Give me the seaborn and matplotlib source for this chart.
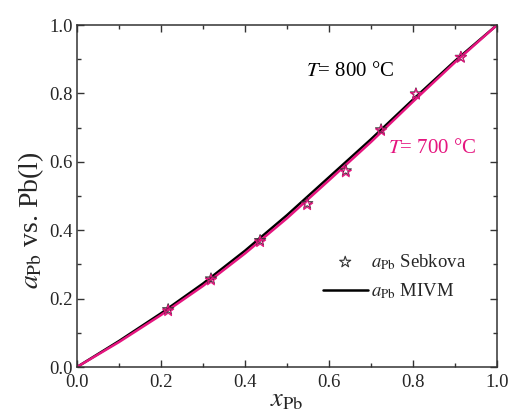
import numpy as np
import pandas as pd
import matplotlib
matplotlib.use("Agg")
import matplotlib.pyplot as plt
import seaborn as sns

# MIVM curves
x_curve = [0.0, 0.1, 0.2, 0.3, 0.4, 0.5, 0.6, 0.7, 0.8, 0.9, 1.0]
a_700 = [0.0, 0.073, 0.152, 0.237, 0.332, 0.435, 0.546, 0.658, 0.776, 0.891, 1.0]
a_800 = [0.0, 0.076, 0.157, 0.244, 0.340, 0.444, 0.555, 0.666, 0.782, 0.895, 1.0]

# Sebkova data
x_exp = [0.217, 0.319, 0.436, 0.548, 0.640, 0.724, 0.807, 0.914]
a_exp_700 = [0.164, 0.254, 0.366, 0.474, 0.570, 0.691, 0.797, 0.905]
a_exp_800 = [0.168, 0.258, 0.370, 0.478, 0.574, 0.694, 0.799, 0.906]

sns.set_style("ticks")
plt.rcParams["font.family"] = ["Liberation Serif", "DejaVu Serif"]
plt.rcParams["mathtext.fontset"] = "stix"

PINK = "#e5157f"

fig = plt.figure(figsize=(5.11, 4.12), dpi=100)
ax = fig.add_axes([0.1507, 0.1092, 0.8219, 0.8301])

df_c = pd.DataFrame({"x": x_curve, "a700": a_700, "a800": a_800})
df_e = pd.DataFrame({"x": x_exp, "a700": a_exp_700, "a800": a_exp_800})

sns.lineplot(data=df_c, x="x", y="a800", ax=ax, color="black", lw=1.8,
             label=r"$a_{\rm Pb}$ MIVM")
sns.lineplot(data=df_c, x="x", y="a700", ax=ax, color=PINK, lw=1.8,
             label="_nolegend_")
ax.scatter(df_e["x"], df_e["a800"], marker="*", s=70, facecolors="none",
           edgecolors="#333333", linewidths=0.8, label=r"$a_{\rm Pb}$ Sebkova", zorder=3)
ax.scatter(df_e["x"], df_e["a700"], marker="*", s=70, facecolors="none",
           edgecolors=PINK, linewidths=0.8, label="_nolegend_", zorder=3)

ax.set_xlim(0, 1)
ax.set_ylim(0, 1)
ax.set_xticks(np.arange(0, 1.01, 0.2))
ax.set_yticks(np.arange(0, 1.01, 0.2))
ax.set_xticks(np.arange(0.1, 1.0, 0.2), minor=True)
ax.set_yticks(np.arange(0.1, 1.0, 0.2), minor=True)
ax.xaxis.set_major_formatter(matplotlib.ticker.FormatStrFormatter("%.1f"))
ax.yaxis.set_major_formatter(matplotlib.ticker.FormatStrFormatter("%.1f"))
ax.tick_params(which="both", direction="in", top=True, right=True, labelsize=13.5,
               color="#333333")
ax.tick_params(which="major", length=5, width=1, pad=3)
ax.tick_params(which="minor", length=3, width=1)
ax.tick_params(axis="x", which="major", pad=5)
for s in ax.spines.values():
    s.set_linewidth(1.1)
    s.set_color("#333333")

ax.set_xlabel(r"$x_{\rm Pb}$", fontsize=19)
ax.xaxis.set_label_coords(0.5, -0.066)
ax.set_ylabel(r"$a_{\rm Pb}$ vs. Pb(l)", fontsize=20)
ax.yaxis.set_label_coords(-0.075, 0.43)

ax.text(0.545, 0.865, r"$T$= 800 °C", fontsize=15, color="black", ha="left", va="center",
        transform=ax.transAxes)
ax.text(0.74, 0.64, r"$T$= 700 °C", fontsize=15, color=PINK, ha="left", va="center",
        transform=ax.transAxes)

h, l = ax.get_legend_handles_labels()
order = [l.index(r"$a_{\rm Pb}$ Sebkova"), l.index(r"$a_{\rm Pb}$ MIVM")]
ax.legend([h[i] for i in order], [l[i] for i in order], loc="center left",
          bbox_to_anchor=(0.585, 0.265), frameon=False, fontsize=13.5,
          handlelength=2.4, handletextpad=0.2, borderpad=0, borderaxespad=0,
          labelspacing=0.5)

fig.savefig("out.png", dpi=100)
